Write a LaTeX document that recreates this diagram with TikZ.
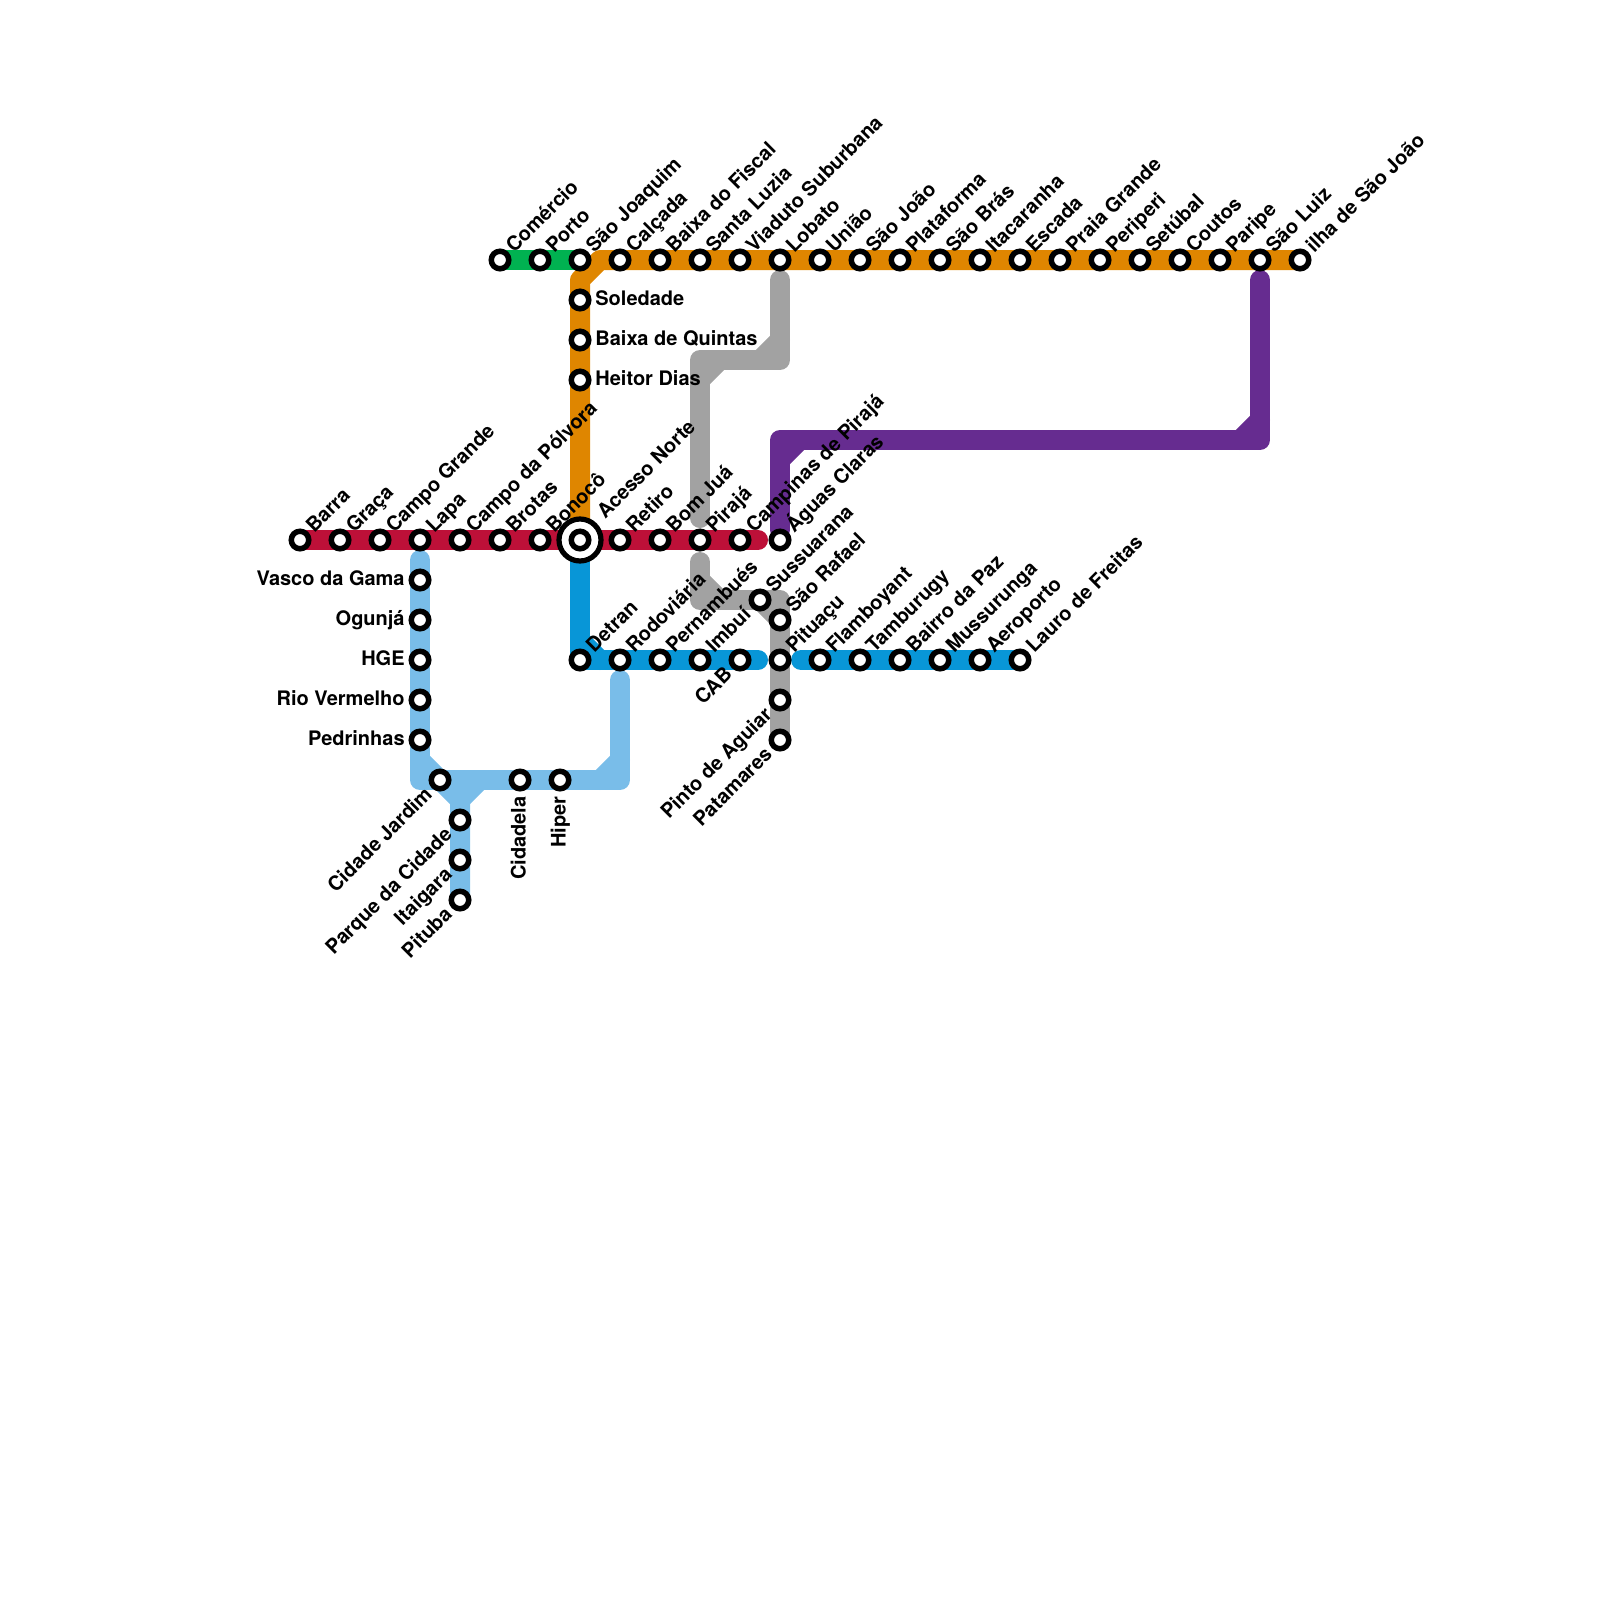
\documentclass[tikz,border=0pt]{standalone}
\usepackage{fontspec}
\setmainfont{TeX Gyre Heros}
\usetikzlibrary{calc}
\tikzset{
  x=0.5pt,y=-0.5pt,
  mline/.style={line width=10pt,line join=round,line cap=round},
  stn/.style={circle,draw=black,fill=white,line width=2.75pt,minimum size=8.75pt,inner sep=0pt,outer sep=0pt},
  lb/.style={font=\bfseries\fontsize{10pt}{12pt}\selectfont,inner sep=0pt,text=black},
}
\definecolor{lred}{HTML}{BD1038}
\definecolor{lorange}{HTML}{DF8600}
\definecolor{lgreen}{HTML}{00B251}
\definecolor{lgrey}{HTML}{A2A2A2}
\definecolor{lpurple}{HTML}{662C90}
\definecolor{lblue}{HTML}{0896D7}
\definecolor{lsky}{HTML}{79BDE9}
\newcommand{\StNE}[3]{\node[stn] (#1) at (#2) {}; \node[lb,anchor=base west,rotate=45] (#1t) at ($(#2)+(14,-6)$) {#3};}
\newcommand{\StSW}[3]{\node[stn] (#1) at (#2) {}; \node[lb,anchor=base east,rotate=45] (#1t) at ($(#2)+(-6.5,15.5)$) {#3};}
\newcommand{\StWW}[3]{\node[stn] (#1) at (#2) {}; \node[lb,anchor=base east] (#1t) at ($(#2)+(-15,5)$) {#3};}
\newcommand{\StEE}[3]{\node[stn] (#1) at (#2) {}; \node[lb,anchor=base west] (#1t) at ($(#2)+(15,5)$) {#3};}
\newcommand{\StSS}[3]{\node[stn] (#1) at (#2) {}; \node[lb,anchor=base east,rotate=90] (#1t) at ($(#2)+(5.5,16)$) {#3};}
\begin{document}
\begin{tikzpicture}
\useasboundingbox (0,0) rectangle (1600,1600);
% lines
\draw[mline,lorange,line cap=butt] (580,520)--(580,280)--(600,260)--(1300,260);
\draw[mline,lgreen,line cap=butt] (500,260)--(575,260);
\draw[mline,lgrey] (780,280)--(780,360)--(700,360)--(700,518);
\draw[mline,lgrey] (780,340)--(760,360);
\draw[mline,lgrey] (700,380)--(720,360);
\draw[mline,lgrey] (700,562)--(700,600)--(780,600)--(780,740);
\draw[mline,lgrey] (700,580)--(720,600);
\draw[mline,lgrey] (760,600)--(780,620);
\draw[mline,lpurple] (780,530)--(780,440)--(1260,440)--(1260,280);
\draw[mline,lpurple] (780,460)--(800,440);
\draw[mline,lpurple] (1240,440)--(1260,420);
\draw[mline,lred] (300,540)--(758,540);
\draw[mline,lblue] (580,560)--(580,660)--(758,660);
\draw[mline,lblue] (580,640)--(600,660);
\draw[mline,lblue] (801,660)--(1020,660);
\draw[mline,lsky] (420,560)--(420,780)--(620,780)--(620,680);
\draw[mline,lsky] (420,760)--(440,780);
\draw[mline,lsky] (600,780)--(620,760);
\draw[mline,lsky] (440,780)--(460,800)--(460,900);
\draw[mline,lsky] (460,800)--(480,780);
% top row
\StNE{a1}{500,260}{Comércio}
\StNE{a2}{540,260}{Porto}
\StNE{a3}{580,260}{São Joaquim}
\StNE{a4}{620,260}{Calçada}
\StNE{a5}{660,260}{Baixa do Fiscal}
\StNE{a6}{700,260}{Santa Luzia}
\StNE{a7}{740,260}{Viaduto Suburbana}
\StNE{a8}{780,260}{Lobato}
\StNE{a9}{820,260}{União}
\StNE{a10}{860,260}{São João}
\StNE{a11}{900,260}{Plataforma}
\StNE{a12}{940,260}{São Brás}
\StNE{a13}{980,260}{Itacaranha}
\StNE{a14}{1020,260}{Escada}
\StNE{a15}{1060,260}{Praia Grande}
\StNE{a16}{1100,260}{Periperi}
\StNE{a17}{1140,260}{Setúbal}
\StNE{a18}{1180,260}{Coutos}
\StNE{a19}{1220,260}{Paripe}
\StNE{a20}{1260,260}{São Luiz}
\StNE{a21}{1300,260}{ilha de São João}
\StEE{c1}{580,300}{Soledade}
\StEE{c2}{580,340}{Baixa de Quintas}
\StEE{c3}{580,380}{Heitor Dias}
% red row
\StNE{r1}{300,540}{Barra}
\StNE{r2}{340,540}{Graça}
\StNE{r3}{380,540}{Campo Grande}
\StNE{r4}{420,540}{Lapa}
\StNE{r5}{460,540}{Campo da Pólvora}
\StNE{r6}{500,540}{Brotas}
\StNE{r7}{540,540}{Bonocô}
\draw[black,fill=white,line width=2.6pt] (580,540) circle[radius=21];
\node[stn] (r8) at (580,540) {};
\node[lb,anchor=base west,rotate=45] (r8t) at ($(r8)+(25,-20)$) {Acesso Norte};
\StNE{r9}{620,540}{Retiro}
\StNE{r10}{660,540}{Bom Juá}
\StNE{r11}{700,540}{Pirajá}
\StNE{r12}{740,540}{Campinas de Pirajá}
\StNE{r13}{780,540}{Águas Claras}
% light blue
\StWW{s1}{420,580}{Vasco da Gama}
\StWW{s2}{420,620}{Ogunjá}
\StWW{s3}{420,660}{HGE}
\StWW{s4}{420,700}{Rio Vermelho}
\StWW{s5}{420,740}{Pedrinhas}
\StSW{s6}{440,780}{Cidade Jardim}
\StSS{s7}{520,780}{Cidadela}
\StSS{s8}{560,780}{Hiper}
\StSW{s9}{460,820}{Parque da Cidade}
\StSW{s10}{460,860}{Itaigara}
\StSW{s11}{460,900}{Pituba}
% blue row
\StNE{b1}{580,660}{Detran}
\StNE{b2}{620,660}{Rodoviária}
\StNE{b3}{660,660}{Pernambués}
\StNE{b4}{700,660}{Imbuí}
\StSW{b5}{740,660}{CAB}
\StNE{b6}{780,660}{Pituaçu}
\StNE{b7}{820,660}{Flamboyant}
\StNE{b8}{860,660}{Tamburugy}
\StNE{b9}{900,660}{Bairro da Paz}
\StNE{b10}{940,660}{Mussurunga}
\StNE{b11}{980,660}{Aeroporto}
\StNE{b12}{1020,660}{Lauro de Freitas}
\StNE{d1}{760,600}{Sussuarana}
\StNE{d2}{780,620}{São Rafael}
\StSW{d3}{780,700}{Pinto de Aguiar}
\StSW{d4}{780,740}{Patamares}
\end{tikzpicture}
\end{document}
